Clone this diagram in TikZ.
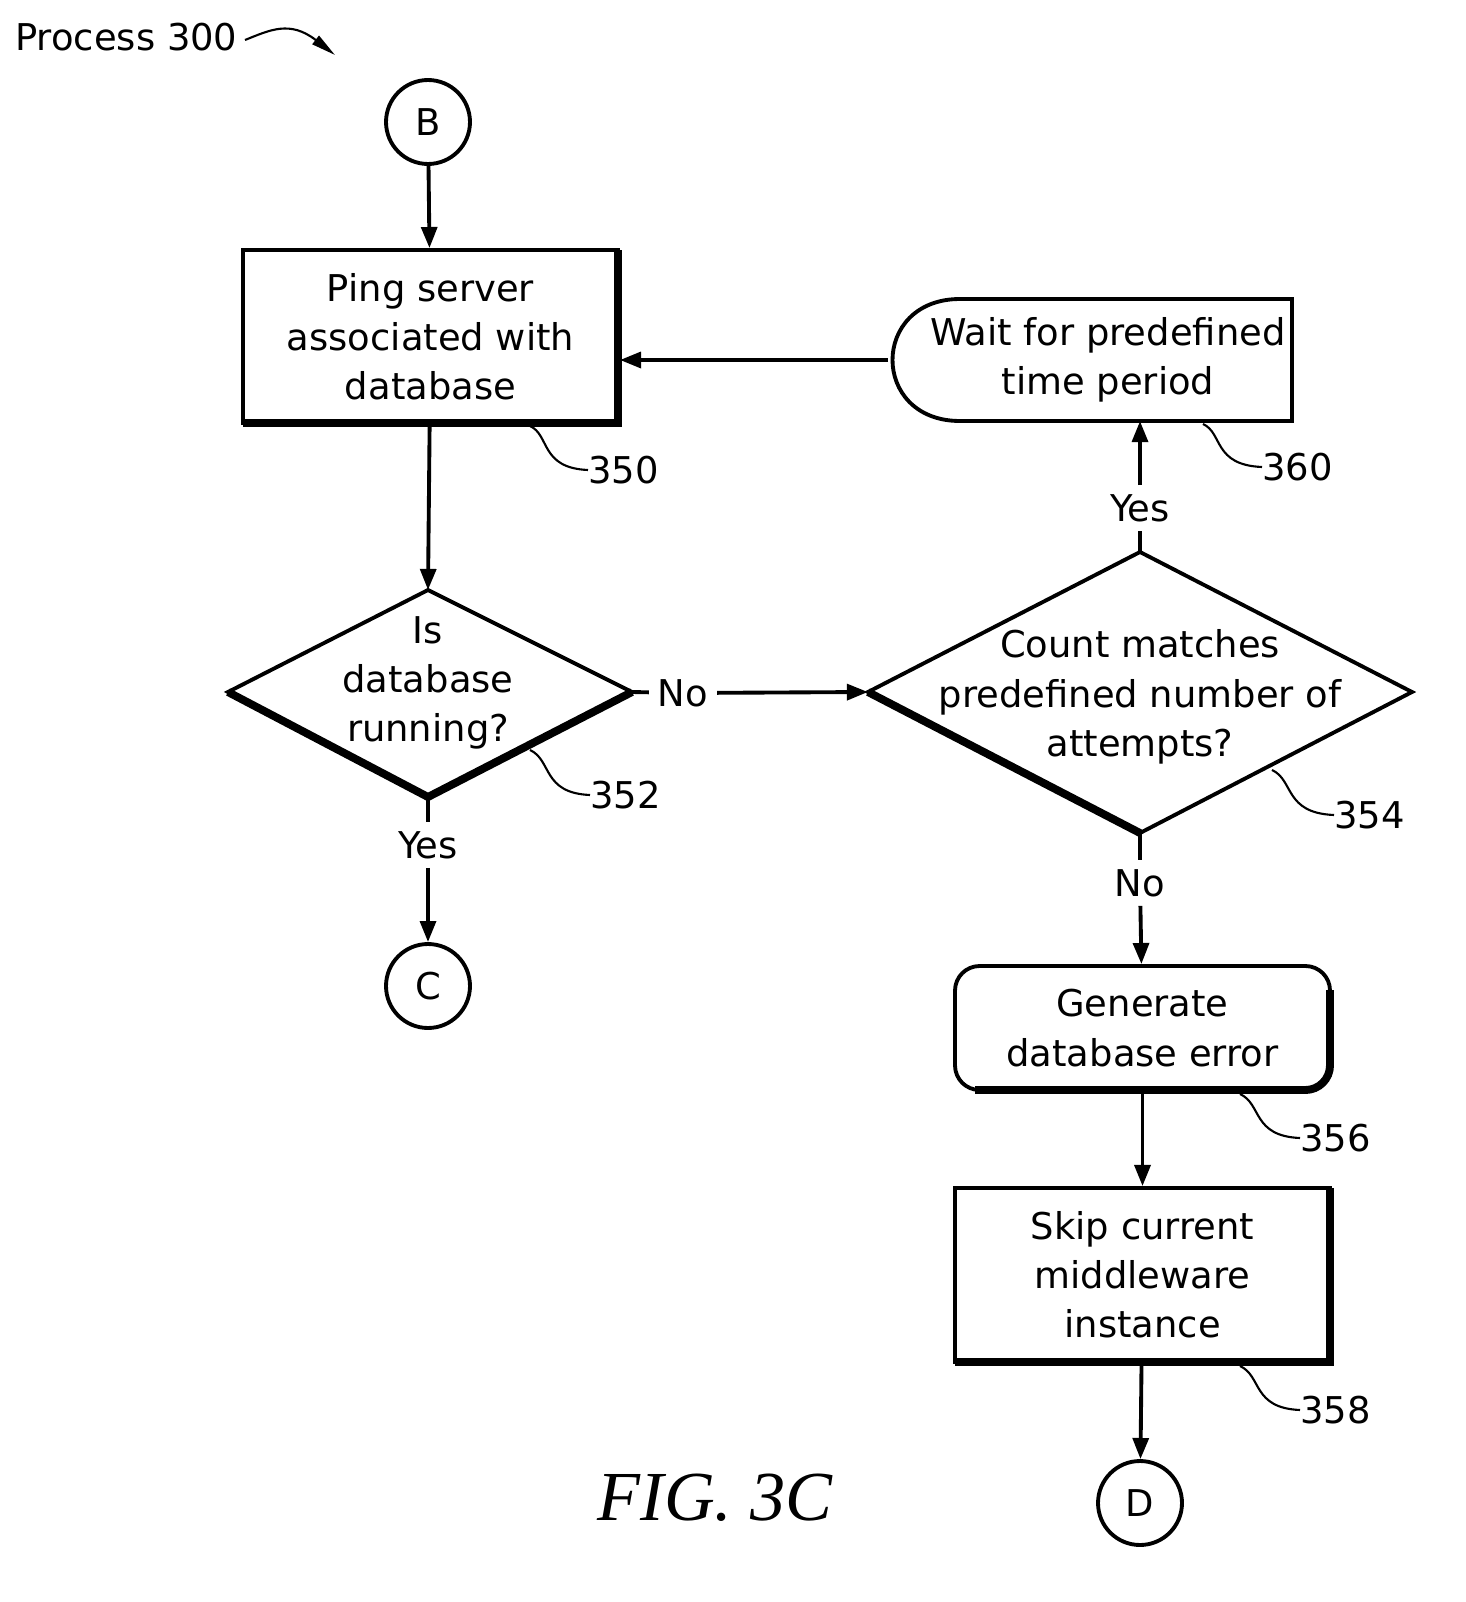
\documentclass[tikz,border=0pt]{standalone}
\usepackage{fontspec}
\setmainfont{DejaVu Sans}
\newfontfamily\figfont{Liberation Serif}
\usetikzlibrary{arrows.meta,shapes.geometric}
\begin{document}
\begin{tikzpicture}[x=0.02cm,y=-0.02cm,
  every node/.style={font=\fontsize{21}{28}\selectfont,align=center,inner sep=0pt},
  ln/.style={line width=2.2pt},
  arr/.style={ln,-{Triangle[length=12pt,width=9pt]}},
  lead/.style={line width=1.2pt},
  br/.style={inner sep=5pt},
  circ/.style={circle,draw,ln,minimum size=1.68cm},
  lbl/.style={anchor=west}]
\useasboundingbox (0,0) rectangle (1465,1602);
% title
\node[anchor=west] (title) at (15,37) {Process 300};
\coordinate (t1) at (245,40);
\coordinate (t2) at (335,55);
\draw[lead,-{Triangle[length=14pt,width=6pt]}] (t1) .. controls (270,30) and (290,20) .. (t2);
% connectors B, C, D
\node[circ] (B) at (428,122) {B};
\node[circ] (C) at (428,986) {C};
\node[circ] (D) at (1140,1503) {D};
% box 350
\draw[line width=4.5pt] (618,250) -- (618,423) -- (243,423);
\node[draw,ln,minimum width=375*0.02cm,minimum height=173*0.02cm] (p350) at (430.5,336.5) {Ping server\\associated with\\database};
% wait 360
\draw[ln] (1292,299) -- (960,299) .. controls (870,299) and (870,421) .. (960,421) -- (1292,421) -- cycle;
\node (p360) at (1108,360) {Wait for predefined\\time period};
\coordinate (w360l) at (888,360);
\coordinate (w360b) at (1140,421);
% diamond 352
\draw[ln] (228,692) -- (428,590) -- (632,692) -- (428,797) -- cycle;
\draw[line width=4.5pt] (228,692) -- (428,797) -- (632,692);
\node (p352) at (428,683) {Is\\database\\running?};
\coordinate (d352t) at (428,590);
\coordinate (d352r) at (632,692);
\coordinate (d352b) at (428,797);
% diamond 354
\draw[ln] (868,692) -- (1140,552) -- (1412,692) -- (1140,833) -- cycle;
\draw[line width=4.5pt] (868,692) -- (1140,833);
\node (p354) at (1140,697) {Count matches\\predefined number of\\attempts?};
\coordinate (d354l) at (868,692);
\coordinate (d354t) at (1140,552);
\coordinate (d354b) at (1140,833);
% box 356
\draw[line width=4.5pt,rounded corners=14pt] (1330,990) -- (1330,1090) -- (975,1090);
\node[draw,ln,rounded corners=14pt,minimum width=375*0.02cm,minimum height=124*0.02cm] (p356) at (1142.5,1028) {Generate\\database error};
% box 358
\draw[line width=4.5pt] (1330,1188) -- (1330,1362) -- (955,1362);
\node[draw,ln,minimum width=375*0.02cm,minimum height=174*0.02cm] (p358) at (1142.5,1275) {Skip current\\middleware\\instance};
% branch labels
\node[br] (no1) at (683,693) {No};
\node[br] (yes1) at (428,845) {Yes};
\node[br] (yes2) at (1140,508) {Yes};
\node[br] (no2) at (1140,883) {No};
% arrows
\draw[arr] (B) -- (p350);
\draw[arr] (p350) -- (d352t);
\draw[ln] (d352r) -- (no1);
\draw[arr] (no1) -- (d354l);
\draw[ln] (d352b) -- (yes1);
\draw[arr] (yes1) -- (C);
\draw[ln] (d354t) -- (yes2);
\draw[arr] (yes2) -- (w360b);
\draw[arr] (w360l) -- (p350.east |- w360l);
\draw[ln] (d354b) -- (no2);
\draw[arr] (no2) -- (p356);
\draw[arr] (p356) -- (p358);
\draw[arr] (p358) -- (D);
% reference numerals
\node[lbl] (n350) at (588,470) {350};
\draw[lead] (530,426) .. controls (550,435) and (540,468) .. (n350.west);
\node[lbl] (n360) at (1262,467) {360};
\draw[lead] (1203,424) .. controls (1223,433) and (1213,465) .. (n360.west);
\node[lbl] (n352) at (590,795) {352};
\draw[lead] (530,750) .. controls (552,760) and (542,793) .. (n352.west);
\node[lbl] (n354) at (1334,815) {354};
\draw[lead] (1272,770) .. controls (1294,780) and (1284,813) .. (n354.west);
\node[lbl] (n356) at (1300,1138) {356};
\draw[lead] (1240,1094) .. controls (1262,1104) and (1252,1136) .. (n356.west);
\node[lbl] (n358) at (1300,1410) {358};
\draw[lead] (1240,1366) .. controls (1262,1376) and (1252,1408) .. (n358.west);
% figure caption
\node (fig) at (715,1498) {\figfont\itshape\fontsize{40}{44}\selectfont FIG. 3C};
\end{tikzpicture}
\end{document}
